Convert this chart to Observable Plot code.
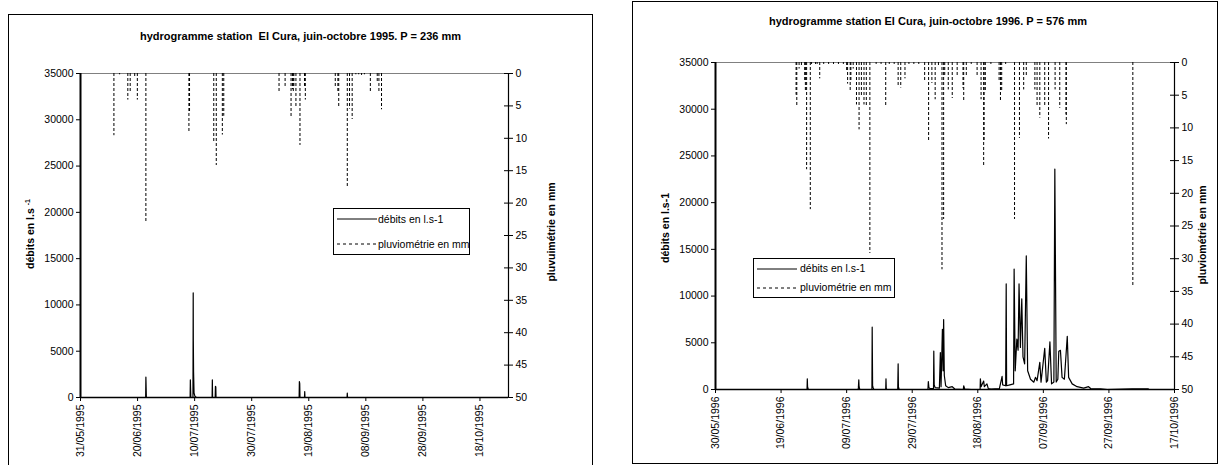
<!DOCTYPE html>
<html>
<head>
<meta charset="utf-8">
<script src="https://cdn.jsdelivr.net/npm/d3@7"></script>
<script src="https://cdn.jsdelivr.net/npm/@observablehq/plot@0.6"></script>
<style>
  html, body { margin: 0; padding: 0; background: #fff; }
  body { width: 1221px; height: 465px; position: relative; overflow: hidden; font-family: "Liberation Sans", Arial, sans-serif; color: #000; }
  .abs { position: absolute; }
  .frame { position: absolute; border: 1px solid #000; box-sizing: border-box; }
  .title { position: absolute; text-align: center; font-weight: bold; font-size: 11px; white-space: nowrap; }
  .vlab { position: absolute; font-weight: bold; font-size: 10.5px; white-space: nowrap; transform: translate(-50%, -50%) rotate(-90deg); }
  .legend { position: absolute; border: 1px solid #000; background: #fff; box-sizing: border-box; font-size: 10.5px; }
  .legend .row { position: absolute; white-space: nowrap; }
  .plot { position: absolute; top: 0; }
</style>
</head>
<body>
<div class="frame" style="left:8px; top:14px; width:585px; height:470px;"></div>
<div class="frame" style="left:632px; top:1px; width:586px; height:463px;"></div>

<div id="p95" class="plot" style="left:0px;"></div>
<div id="r95" class="plot" style="left:0px;"></div>
<div id="p96" class="plot" style="left:610px;"></div>
<div id="r96" class="plot" style="left:610px;"></div>

<div class="title" style="left:8px; width:585px; top:30px;">hydrogramme station&nbsp; El Cura, juin-octobre 1995. P = 236 mm</div>
<div class="title" style="left:632px; width:592px; top:15px;">hydrogramme station El Cura, juin-octobre 1996. P = 576 mm</div>

<div class="vlab" style="left:30px; top:234px;">débits en l.s <sup style="font-size:7px">-1</sup></div>
<div class="vlab" style="left:551px; top:232px;">pluvuimétrie en mm</div>
<div class="vlab" style="left:665px; top:228px;">débits en l.s-1</div>
<div class="vlab" style="left:1202px; top:235px;">pluviométrie en mm</div>

<div class="legend" style="left:333px; top:208px; width:137px; height:47px;">
  <svg class="abs" style="left:3px; top:9px;" width="40" height="2"><line x1="0" y1="1" x2="40" y2="1" stroke="#000" stroke-width="1"/></svg>
  <div class="row" style="left:44px; top:4px;">débits en l.s-1</div>
  <svg class="abs" style="left:3px; top:34px;" width="40" height="2"><line x1="0" y1="1" x2="40" y2="1" stroke="#000" stroke-width="1" stroke-dasharray="3,3"/></svg>
  <div class="row" style="left:44px; top:29px;">pluviométrie en mm</div>
</div>

<div class="legend" style="left:753px; top:258px; width:142px; height:40px;">
  <svg class="abs" style="left:3px; top:9px;" width="40" height="2"><line x1="0" y1="1" x2="40" y2="1" stroke="#000" stroke-width="1"/></svg>
  <div class="row" style="left:46px; top:3px;">débits en l.s-1</div>
  <svg class="abs" style="left:3px; top:28px;" width="40" height="2"><line x1="0" y1="1" x2="40" y2="1" stroke="#000" stroke-width="1" stroke-dasharray="3,3"/></svg>
  <div class="row" style="left:46px; top:22px;">pluviométrie en mm</div>
</div>

<script>
// ---------------- DATA ----------------
// x axis tick dates
const xTicks1995 = ["1995-05-31","1995-06-20","1995-07-10","1995-07-30","1995-08-19","1995-09-08","1995-09-28","1995-10-18"];
const xTicks1996 = ["1996-05-30","1996-06-19","1996-07-09","1996-07-29","1996-08-18","1996-09-07","1996-09-27","1996-10-17"];
const xDomain1995 = ["1995-05-31","1995-10-28"];
const xDomain1996 = ["1996-05-30","1996-10-17"];
const flowTicks = [0,5000,10000,15000,20000,25000,30000,35000];
const rainTicks = [0,5,10,15,20,25,30,35,40,45,50];

// 1995 rainfall (mm)
const rain1995Time = ["1995-06-11 17","1995-06-13 17","1995-06-16 14","1995-06-17 10","1995-06-19 00","1995-06-19 22","1995-06-22 22",
  "1995-07-08 00","1995-07-08 05","1995-07-16 17","1995-07-17 14","1995-07-19 17","1995-07-20 05",
  "1995-08-08 14","1995-08-10 17","1995-08-12 19","1995-08-13 07","1995-08-13 14","1995-08-13 19","1995-08-14 12","1995-08-15 22","1995-08-17 12","1995-08-17 19",
  "1995-08-28 07","1995-08-29 05","1995-08-29 12","1995-09-01 12","1995-09-02 07","1995-09-03 05","1995-09-04 12","1995-09-05 12","1995-09-06 12","1995-09-07 12",
  "1995-09-09 14","1995-09-12 00","1995-09-12 14","1995-09-13 12"];
const rain1995Mm = [9.6,0.2,4.1,3.0,0.7,4.1,23.1,
  9.2,6.0,10.5,14.2,9.5,6.6,
  2.8,2.0,6.7,2.5,3.0,2.0,5.1,11.1,2.0,4.1,
  2.3,3.0,5.3,17.5,5.5,7.1,0.2,0.2,0.3,0.2,
  3.0,1.5,2.8,5.6];

// 1995 discharge (l/s)
const flow1995Time = ["1995-05-31 00","1995-06-22 20","1995-06-22 22","1995-06-23 02",
  "1995-07-08 10","1995-07-08 12","1995-07-08 16","1995-07-09 10","1995-07-09 12","1995-07-09 13","1995-07-09 15","1995-07-09 19","1995-07-10 02","1995-07-10 14",
  "1995-07-16 03","1995-07-16 05","1995-07-16 07","1995-07-17 05","1995-07-17 07","1995-07-17 10","1995-07-17 12",
  "1995-08-15 15","1995-08-15 17","1995-08-15 20","1995-08-15 22","1995-08-17 12","1995-08-17 14","1995-08-17 16",
  "1995-09-01 10","1995-09-01 12","1995-09-01 14","1995-10-28 00"];
const flow1995Q = [0,0,2200,0,
  0,1900,0,0,11300,6100,2800,500,150,0,
  0,1900,0,0,1200,1150,0,
  0,1720,1500,0,0,650,0,
  0,470,0,0];

// 1996 rainfall (mm)
const rain1996Time = ["1996-06-23 14","1996-06-23 19","1996-06-24 12","1996-06-25 05","1996-06-26 05","1996-06-26 10","1996-06-26 19","1996-06-27 22",
  "1996-06-28 07","1996-06-29 12","1996-06-30 00","1996-06-30 19","1996-07-02 00","1996-07-03 12","1996-07-05 00","1996-07-06 12","1996-07-08 00",
  "1996-07-09 00","1996-07-09 07","1996-07-10 02","1996-07-10 07","1996-07-11 00","1996-07-12 00","1996-07-12 19","1996-07-13 12","1996-07-14 07","1996-07-15 00","1996-07-16 02",
  "1996-07-18 00","1996-07-19 12","1996-07-20 22","1996-07-22 00","1996-07-23 12","1996-07-24 17","1996-07-25 12","1996-07-26 19","1996-07-28 00","1996-07-29 12","1996-07-31 00",
  "1996-08-01 19","1996-08-03 00","1996-08-04 00","1996-08-05 00","1996-08-06 00","1996-08-07 02","1996-08-07 14","1996-08-07 22","1996-08-09 00","1996-08-10 05","1996-08-11 17",
  "1996-08-13 12","1996-08-13 17","1996-08-14 12","1996-08-16 00","1996-08-17 19","1996-08-19 00","1996-08-19 19","1996-08-19 22","1996-08-20 07","1996-08-22 00",
  "1996-08-24 12","1996-08-24 22","1996-08-25 07","1996-08-26 12","1996-08-29 05","1996-08-30 17","1996-09-01 00","1996-09-01 19",
  "1996-09-04 10","1996-09-05 02","1996-09-05 22","1996-09-07 10","1996-09-08 14","1996-09-10 14","1996-09-12 00","1996-09-13 22","1996-09-14 00","1996-10-04 07"];
const rain1996Mm = [5.0,6.7,1.0,0.5,3.0,4.4,16.4,22.5,
  0.3,0.3,0.3,2.5,0.3,0.3,0.3,0.3,0.3,
  1.5,3.3,4.4,3.0,1.0,6.5,10.3,5.2,6.5,6.7,29.2,
  0.3,0.3,6.7,0.3,0.3,3.7,3.9,2.5,0.3,0.3,0.3,
  2.8,12.1,3.2,5.7,0.5,31.7,24.0,2.1,4.2,5.5,2.1,
  4.0,6.1,2.1,0.3,2.0,5.7,15.9,12.0,4.6,0.3,
  3.0,6.0,4.5,0.3,24.0,11.6,4.2,2.0,
  4.2,6.7,8.5,6.7,11.7,4.2,7.0,8.0,9.5,34.2];

// 1996 discharge (l/s)
const flow1996Time = ["1996-05-30 00","1996-06-26 22","1996-06-27 00","1996-06-27 02","1996-06-27 07",
  "1996-07-12 12","1996-07-12 14","1996-07-12 17","1996-07-12 19","1996-07-13 00",
  "1996-07-16 17","1996-07-16 19","1996-07-16 22","1996-07-17 02","1996-07-17 07",
  "1996-07-20 22","1996-07-21 00","1996-07-21 02","1996-07-21 07",
  "1996-07-24 14","1996-07-24 17","1996-07-24 19","1996-07-25 00",
  "1996-08-02 19","1996-08-02 22","1996-08-03 02","1996-08-03 10","1996-08-04 12","1996-08-04 14","1996-08-04 17","1996-08-05 00",
  "1996-08-06 07","1996-08-06 14","1996-08-06 19","1996-08-07 05","1996-08-07 10","1996-08-07 14","1996-08-07 19","1996-08-08 05","1996-08-09 00","1996-08-10 05","1996-08-11 00",
  "1996-08-13 14","1996-08-13 17","1996-08-14 00","1996-08-16 00",
  "1996-08-18 17","1996-08-18 19","1996-08-19 00","1996-08-19 19","1996-08-20 00","1996-08-20 19","1996-08-21 05","1996-08-22 00",
  "1996-08-24 14","1996-08-25 10","1996-08-25 14","1996-08-26 12","1996-08-26 16","1996-08-26 19","1996-08-27 19",
  "1996-08-28 22","1996-08-29 02","1996-08-29 10","1996-08-29 22","1996-08-30 07","1996-08-30 14","1996-08-31 00","1996-08-31 10","1996-08-31 19",
  "1996-09-01 07","1996-09-01 19","1996-09-02 05","1996-09-03 02","1996-09-04 02","1996-09-04 14","1996-09-05 02","1996-09-05 22","1996-09-06 07",
  "1996-09-07 10","1996-09-07 22","1996-09-08 07","1996-09-09 00","1996-09-09 12","1996-09-10 05","1996-09-10 12","1996-09-10 22",
  "1996-09-11 10","1996-09-11 17","1996-09-12 05","1996-09-12 17","1996-09-13 10","1996-09-14 07","1996-09-14 17","1996-09-15 19",
  "1996-09-17 07","1996-09-19 07","1996-09-20 19","1996-09-21 10","1996-09-24 10","1996-09-26 12","1996-10-04 02","1996-10-09 00","1996-10-09 05","1996-10-17 00"];
const flow1996Q = [0,0,1140,300,0,
  0,200,1040,300,0,
  0,6670,400,200,0,
  0,1140,100,0,
  0,2750,300,0,
  0,850,200,100,100,4100,500,200,
  150,3960,300,6450,2000,7490,1500,400,200,300,50,
  0,400,50,0,
  0,1140,300,900,300,600,100,50,
  100,1400,500,400,11300,400,500,
  600,12900,2000,5400,4200,11300,4500,9700,3500,
  2750,14300,2000,1100,780,1300,950,2900,780,
  4400,780,950,5100,600,800,23600,800,
  1100,4100,4200,1300,1100,5700,1300,600,
  300,150,300,100,60,0,60,60,0,0];

// ---------------- BUILD ----------------
const pT = d3.utcParse("%Y-%m-%d %H");
const pD = d3.utcParse("%Y-%m-%d");
const fmt = d3.utcFormat("%d/%m/%Y");
const zip = (ts, vs) => ts.map((t, i) => ({t: pT(t), v: vs[i]}));
const FONT = "'Liberation Sans', Arial, sans-serif";

function panel(cfg) {
  const dom = cfg.xDomain.map(pD);
  const ticks = cfg.xTicks.map(pD);
  const common = {
    width: cfg.width, height: cfg.height,
    marginLeft: cfg.ml, marginRight: cfg.mr, marginTop: cfg.mt, marginBottom: cfg.mb,
    style: {fontFamily: FONT, fontSize: "10.5px", background: "transparent", color: "#000", overflow: "visible"}
  };
  const flow = Plot.plot({
    ...common,
    x: {type: "utc", domain: dom},
    y: {domain: [0, 35000]},
    marks: [
      Plot.ruleY([35000], {stroke: "#808080", strokeWidth: 1}),
      Plot.line(zip(cfg.flowTime, cfg.flowQ), {x: "t", y: "v", stroke: "#000", strokeWidth: 1.2}),
      Plot.ruleY([0], {stroke: "#000", strokeWidth: 1.5}),
      Plot.ruleX([dom[0]], {stroke: "#000", strokeWidth: 2}),
      Plot.axisY({ticks: flowTicks, tickSize: 4, tickPadding: 3, tickFormat: d => String(d), label: null}),
      Plot.axisX({ticks: ticks, tickSize: 4, tickPadding: 3, tickRotate: -90, tickFormat: fmt, label: null})
    ]
  });
  const rain = Plot.plot({
    ...common,
    x: {type: "utc", domain: dom, axis: null},
    y: {domain: [0, 50], reverse: true},
    marks: [
      Plot.ruleX(zip(cfg.rainTime, cfg.rainMm), {x: "t", y1: 0, y2: "v", stroke: "#000", strokeWidth: 1, strokeDasharray: "3,2"}),
      Plot.ruleX([dom[1]], {stroke: "#000", strokeWidth: 1.2}),
      Plot.ruleY(rainTicks, {x1: dom[1], x2: dom[1], insetLeft: -4, stroke: "#000"}),
      Plot.axisY({anchor: "right", ticks: rainTicks, tickSize: 4, tickPadding: 3, tickFormat: d => String(d), label: null})
    ]
  });
  document.getElementById(cfg.idFlow).appendChild(flow);
  document.getElementById(cfg.idRain).appendChild(rain);
}

panel({idFlow: "p95", idRain: "r95", width: 600, height: 465, ml: 80, mr: 92, mt: 73, mb: 68,
  xDomain: xDomain1995, xTicks: xTicks1995,
  flowTime: flow1995Time, flowQ: flow1995Q, rainTime: rain1995Time, rainMm: rain1995Mm});
panel({idFlow: "p96", idRain: "r96", width: 611, height: 465, ml: 105, mr: 47, mt: 62, mb: 76,
  xDomain: xDomain1996, xTicks: xTicks1996,
  flowTime: flow1996Time, flowQ: flow1996Q, rainTime: rain1996Time, rainMm: rain1996Mm});
</script>
</body>
</html>
